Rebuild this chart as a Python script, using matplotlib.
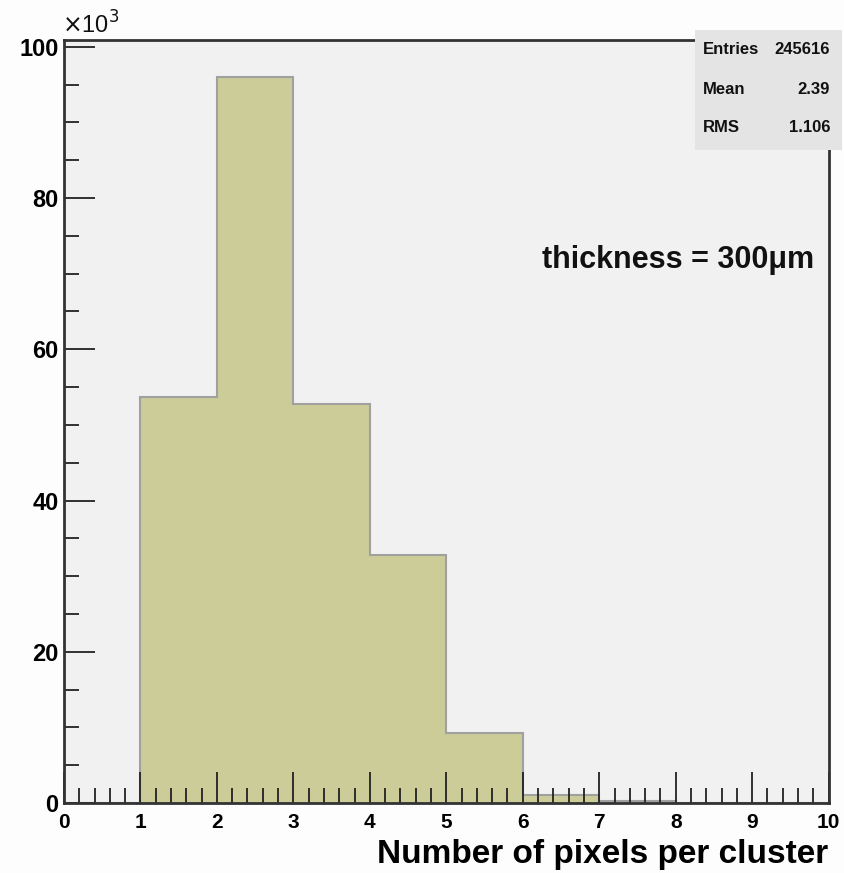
import matplotlib.pyplot as plt
import matplotlib.patches as mpatches
import numpy as np

plt.rcParams['font.family'] = ['Liberation Sans', 'DejaVu Sans']

# Cluster size histogram (entries per bin)
bin_edges = np.arange(0, 11)
counts = [0, 53700, 96000, 52700, 32800, 9200, 1000, 200, 16, 0]

# Stats box
stat_names = ['Entries', 'Mean', 'RMS']
stat_values = ['245616', '2.39', '1.106']

fig = plt.figure(figsize=(8.44, 8.73), dpi=100, facecolor='#fdfdfd')
ax = fig.add_axes([0.0758, 0.0802, 0.906, 0.874])
ax.set_facecolor('#f1f1f1')
ax.set_axisbelow(False)

scaled = np.array(counts) / 1000.0
ax.stairs(scaled, bin_edges, fill=True, color='#cccc99', zorder=1)
ax.stairs(scaled, bin_edges, baseline=None, color='#a0a0a0', linewidth=1.5, zorder=1.2)

ax.set_xlim(0, 10)
ax.set_ylim(0, 100.9)
ax.set_xticks(np.arange(0, 11, 1))
ax.set_xticks(np.arange(0, 10.01, 0.2), minor=True)
ax.set_yticks(np.arange(0, 101, 20))
ax.set_yticks(np.arange(0, 101, 5), minor=True)

ax.tick_params(axis='both', which='major', direction='in', length=22, width=1.3,
               color='#222222', top=False, right=False)
ax.tick_params(axis='both', which='minor', direction='in', length=11, width=1.3,
               color='#222222', top=False, right=False)
ax.tick_params(axis='x', pad=7, labelsize=15)
ax.tick_params(axis='y', pad=4, labelsize=17)
for lab in ax.get_xticklabels() + ax.get_yticklabels():
    lab.set_fontweight('bold')

for s in ax.spines.values():
    s.set_color('#333333')
    s.set_linewidth(2)
    s.set_zorder(5)

ax.set_xlabel('Number of pixels per cluster', fontsize=24, fontweight='bold',
              ha='right', x=1.0, labelpad=5)

ax.text(-0.002, 1.002, r'$\times$10$^{3}$', transform=ax.transAxes, fontsize=17,
        ha='left', va='bottom', color='#111111')

ax.text(6.25, 71.8, 'thickness = 300μm', fontsize=22, fontweight='bold',
        ha='left', va='center', color='#111111')

# Stats box in figure pixel coordinates
W, H = 844, 873
box = mpatches.Rectangle((695 / W, 1 - 150 / H), 147 / W, 120 / H,
                         transform=fig.transFigure, facecolor='#e4e4e4',
                         edgecolor='none', zorder=10)
fig.patches.append(box)
for i, (name, val) in enumerate(zip(stat_names, stat_values)):
    yy = 1 - (50 + i * 39) / H
    fig.text(703 / W, yy, name, fontsize=12, fontweight='bold', ha='left',
             va='center', color='#111111', zorder=11)
    fig.text(830 / W, yy, val, fontsize=12, fontweight='bold', ha='right',
             va='center', color='#111111', zorder=11)

fig.savefig('out.png', dpi=100, facecolor=fig.get_facecolor())
